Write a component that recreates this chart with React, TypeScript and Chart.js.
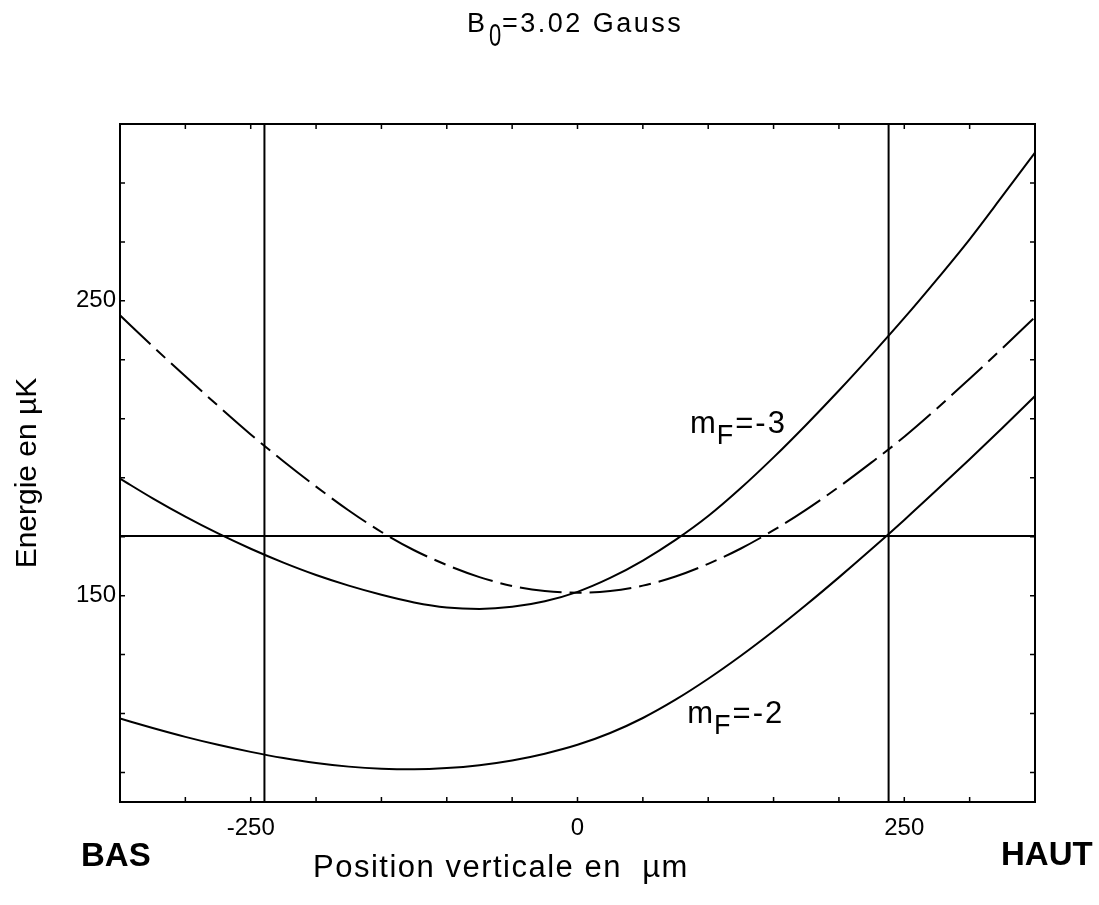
import React, { useEffect, useRef } from "react";
import { Chart, registerables } from "chart.js";

Chart.register(...registerables);

// ---- Data ----
const positions = [
  -350, -325, -300, -275, -250, -225, -200, -175, -150, -125, -100, -75, -50, -25, 0,
  25, 50, 75, 100, 125, 150, 175, 200, 225, 250, 275, 300, 325, 350,
];
// solid upper curve, labelled mF=-3
const energyMf3 = [
  189.7, 183.0, 176.8, 171.1, 165.9, 161.2, 157.0, 153.4, 150.3, 147.7, 146.0, 145.5, 146.2, 148.1, 151.3,
  156.0, 161.9, 168.9, 177.0, 186.5, 196.9, 208.0, 219.6, 231.7, 244.2, 257.3, 270.9, 285.5, 300.3,
];
// dashed symmetric curve
const energyDashed = [
  245.1, 234.6, 224.4, 214.4, 204.7, 195.6, 187.0, 178.9, 171.6, 165.4, 160.4, 156.3, 153.3, 151.6, 151.0,
  151.6, 153.4, 156.5, 160.8, 166.0, 172.2, 179.2, 186.9, 195.2, 203.9, 213.5, 223.6, 233.9, 244.5,
];
// solid lower curve, labelled mF=-2
const energyMf2 = [
  108.3, 105.1, 102.1, 99.4, 97.0, 94.9, 93.2, 92.0, 91.3, 91.1, 91.5, 92.5, 94.1, 96.4, 99.4,
  103.4, 108.5, 114.7, 121.8, 129.6, 138.0, 146.9, 156.2, 165.8, 175.7, 185.9, 196.3, 206.9, 217.7,
];
const markerPositions = [-239.5, 238];
const thresholdEnergy = 170.2;
const xMin = -350;
const xMax = 350;
const yMin = 80;
const yMax = 310;
const xTickValues = [-300, -250, -200, -150, -100, -50, 0, 50, 100, 150, 200, 250, 300];
const xLabelValues = [-250, 0, 250];
const yTickValues = [90, 110, 130, 150, 170, 190, 210, 230, 250, 270, 290];
const yLabelValues = [150, 250];
const curveLabels = [
  { x: 86, y: 205.2, sub: "F", rest: "=-3" },
  { x: 84, y: 106.8, sub: "F", rest: "=-2" },
];

const FONT = '"Liberation Sans", Arial, Helvetica, sans-serif';

const decorPlugin = {
  id: "decor",
  afterDatasetsDraw(chart: any) {
    const { ctx, chartArea: a, scales } = chart;
    ctx.save();
    ctx.strokeStyle = "#000";
    ctx.lineWidth = 2;
    ctx.strokeRect(a.left, a.top, a.right - a.left, a.bottom - a.top);
    ctx.lineWidth = 1.5;
    const tl = 5;
    ctx.beginPath();
    for (const t of scales.x.ticks) {
      const px = scales.x.getPixelForValue(t.value);
      ctx.moveTo(px, a.bottom);
      ctx.lineTo(px, a.bottom - tl);
      ctx.moveTo(px, a.top);
      ctx.lineTo(px, a.top + tl);
    }
    for (const t of scales.y.ticks) {
      const py = scales.y.getPixelForValue(t.value);
      ctx.moveTo(a.left, py);
      ctx.lineTo(a.left + tl, py);
      ctx.moveTo(a.right, py);
      ctx.lineTo(a.right - tl, py);
    }
    ctx.stroke();
    ctx.restore();
  },
  afterDraw(chart: any) {
    const { ctx, scales } = chart;
    ctx.save();
    ctx.fillStyle = "#000";
    ctx.textAlign = "left";
    ctx.textBaseline = "alphabetic";

    // Title: B0=3.02 Gauss
    ctx.font = `27px ${FONT}`;
    ctx.fillText("B", 467, 32);
    ctx.save();
    ctx.translate(489, 46);
    ctx.scale(1, 1.45);
    ctx.font = `22px ${FONT}`;
    ctx.fillText("0", 0, 0);
    ctx.restore();
    ctx.font = `27px ${FONT}`;
    (ctx as any).letterSpacing = "2.5px";
    ctx.fillText("=3.02 Gauss", 502, 32);
    (ctx as any).letterSpacing = "0px";

    // Curve labels
    for (const l of curveLabels) {
      const px = scales.x.getPixelForValue(l.x);
      const py = scales.y.getPixelForValue(l.y);
      ctx.font = `31px ${FONT}`;
      ctx.fillText("m", px, py);
      const wm = ctx.measureText("m").width;
      ctx.font = `27px ${FONT}`;
      ctx.fillText(l.sub, px + wm + 1, py + 11);
      const wf = ctx.measureText(l.sub).width;
      ctx.font = `31px ${FONT}`;
      (ctx as any).letterSpacing = "2px";
      ctx.fillText(l.rest, px + wm + wf + 3, py);
      (ctx as any).letterSpacing = "0px";
    }

    // BAS / HAUT
    ctx.font = `bold 33px ${FONT}`;
    ctx.fillText("BAS", 81, 866);
    ctx.fillText("HAUT", 1001, 865);

    // X axis title
    ctx.font = `31px ${FONT}`;
    (ctx as any).letterSpacing = "1.5px";
    ctx.fillText("Position verticale en  µm", 313, 877);
    (ctx as any).letterSpacing = "0px";

    // Y axis title
    ctx.save();
    ctx.translate(36, 473);
    ctx.rotate(-Math.PI / 2);
    ctx.textAlign = "center";
    ctx.font = `30px ${FONT}`;
    ctx.fillText("Energie en µK", 0, 0);
    ctx.restore();

    ctx.restore();
  },
};

export default function App() {
  const canvasRef = useRef<HTMLCanvasElement | null>(null);

  useEffect(() => {
    const canvas = canvasRef.current;
    if (!canvas) return;
    const toPoints = (ys: number[]) => positions.map((x, i) => ({ x, y: ys[i] }));
    const lineStyle = {
      showLine: true,
      borderColor: "#000",
      backgroundColor: "#000",
      borderWidth: 2,
      pointRadius: 0,
      pointHoverRadius: 0,
      fill: false,
    };
    const chart = new Chart(canvas, {
      type: "scatter",
      data: {
        datasets: [
          { ...lineStyle, label: "mF=-3", data: toPoints(energyMf3), cubicInterpolationMode: "monotone" },
          {
            ...lineStyle,
            label: "dashed",
            data: toPoints(energyDashed),
            cubicInterpolationMode: "monotone",
            borderDash: [42, 8, 12, 8],
          },
          { ...lineStyle, label: "mF=-2", data: toPoints(energyMf2), cubicInterpolationMode: "monotone" },
          ...markerPositions.map((m) => ({
            ...lineStyle,
            label: `marker ${m}`,
            data: [
              { x: m, y: yMin },
              { x: m, y: yMax },
            ],
            tension: 0,
          })),
          {
            ...lineStyle,
            label: "threshold",
            data: [
              { x: xMin, y: thresholdEnergy },
              { x: xMax, y: thresholdEnergy },
            ],
            tension: 0,
          },
        ] as any,
      },
      options: {
        responsive: false,
        maintainAspectRatio: false,
        animation: false,
        events: [],
        layout: { padding: { left: 0, top: 124, right: 64, bottom: 0 } },
        plugins: {
          legend: { display: false },
          tooltip: { enabled: false },
          title: { display: false },
        },
        scales: {
          x: {
            type: "linear",
            position: "bottom",
            min: xMin,
            max: xMax,
            grid: { display: false, drawTicks: false },
            border: { display: false },
            afterBuildTicks: (s: any) => {
              s.ticks = xTickValues.map((v) => ({ value: v }));
            },
            afterFit: (s: any) => {
              s.height = 103;
            },
            ticks: {
              autoSkip: false,
              maxRotation: 0,
              minRotation: 0,
              padding: 12,
              color: "#000",
              font: { family: FONT, size: 24 },
              callback: (v: any) => (xLabelValues.includes(Number(v)) ? String(v) : ""),
            },
          },
          y: {
            type: "linear",
            position: "left",
            min: yMin,
            max: yMax,
            grid: { display: false, drawTicks: false },
            border: { display: false },
            afterBuildTicks: (s: any) => {
              s.ticks = yTickValues.map((v) => ({ value: v }));
            },
            afterFit: (s: any) => {
              s.width = 120;
            },
            ticks: {
              autoSkip: false,
              padding: 4,
              color: "#000",
              font: { family: FONT, size: 24 },
              callback: (v: any) => (yLabelValues.includes(Number(v)) ? String(v) : ""),
            },
          },
        },
      } as any,
      plugins: [decorPlugin],
    });
    return () => chart.destroy();
  }, []);

  return (
    <div style={{ position: "fixed", left: 0, top: 0, width: 1099, height: 905, background: "#fff" }}>
      <canvas ref={canvasRef} width={1099} height={905} style={{ display: "block" }} />
    </div>
  );
}
